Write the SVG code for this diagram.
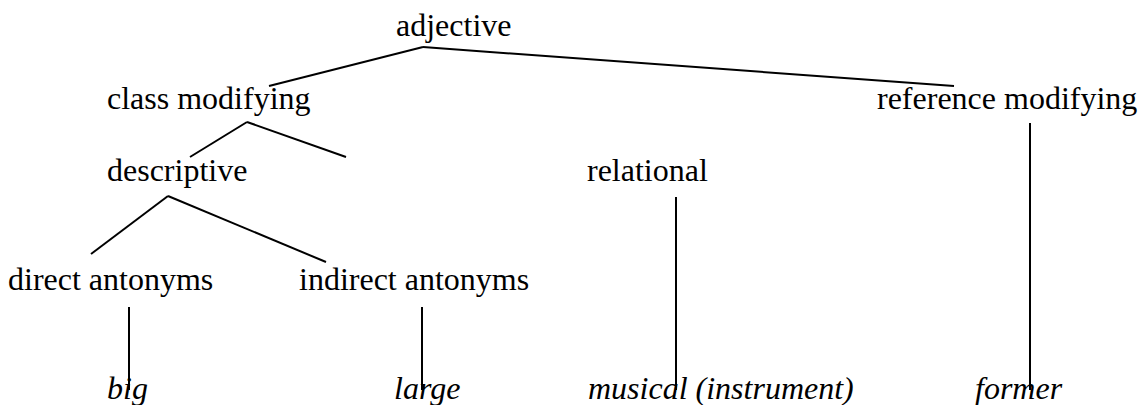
<svg xmlns="http://www.w3.org/2000/svg" width="1147" height="405" viewBox="0 0 1147 405">
<style>
text{font-family:"Liberation Serif","Times New Roman",serif;font-size:32px;fill:#000}
.ex{font-style:italic}
line{stroke:#000;stroke-width:2}
</style>
<rect width="1147" height="405" fill="#fff"/>
<g id="connectors">
<line x1="423" y1="47" x2="269" y2="86"/>
<line x1="423" y1="47" x2="954" y2="86"/>
<line x1="247" y1="122" x2="190" y2="157"/>
<line x1="247" y1="122" x2="346" y2="157"/>
<line x1="168" y1="196" x2="91" y2="254"/>
<line x1="168" y1="196" x2="326" y2="262"/>
<line x1="129" y1="307" x2="129" y2="390"/>
<line x1="422" y1="307" x2="422" y2="390"/>
<line x1="676" y1="197" x2="676" y2="390"/>
<line x1="1030" y1="123" x2="1030" y2="390"/>
</g>
<g id="adjective"><text x="396" y="36">adjective</text></g>
<g id="class-modifying"><text x="107" y="109">class modifying</text></g>
<g id="reference-modifying"><text x="877" y="109">reference modifying</text></g>
<g id="descriptive"><text x="107" y="181">descriptive</text></g>
<g id="relational"><text x="587" y="181">relational</text></g>
<g id="direct-antonyms"><text x="8" y="290">direct antonyms</text></g>
<g id="indirect-antonyms"><text x="299" y="290">indirect antonyms</text></g>
<g id="big"><text class="ex" x="107" y="399">big</text></g>
<g id="large"><text class="ex" x="394" y="399">large</text></g>
<g id="musical"><text class="ex" x="588" y="399">musical (instrument)</text></g>
<g id="former"><text class="ex" x="975" y="399">former</text></g>
</svg>
